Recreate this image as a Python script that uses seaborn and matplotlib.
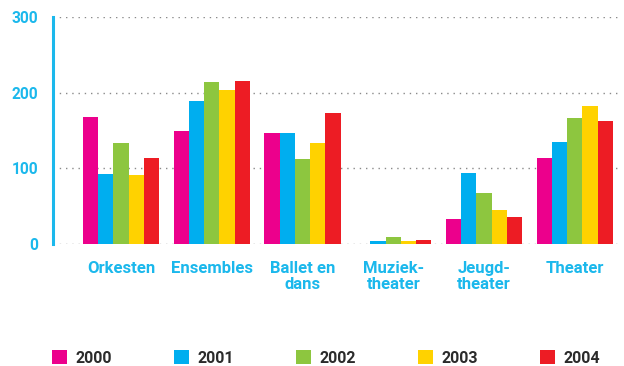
import matplotlib
matplotlib.use("Agg")
import matplotlib.pyplot as plt
from matplotlib.patches import Patch
import seaborn as sns
import pandas as pd

# Categories and yearly values
categories = ["Orkesten", "Ensembles", "Ballet en\ndans", "Muziek-\ntheater", "Jeugd-\ntheater", "Theater"]
years = ["2000", "2001", "2002", "2003", "2004"]
v2000 = [168, 149, 147, 0, 33, 114]
v2001 = [92, 189, 147, 4, 94, 135]
v2002 = [133, 214, 112, 9, 67, 166]
v2003 = [91, 204, 133, 4, 45, 182]
v2004 = [114, 215, 173, 5, 36, 162]
y_ticks = [0, 100, 200, 300]

colors = ["#EC008C", "#00AEEF", "#8DC63F", "#FFD200", "#ED1C24"]
cyan = "#1BB8EC"

series = [v2000, v2001, v2002, v2003, v2004]
rows = []
for year, vals in zip(years, series):
    for cat, v in zip(categories, vals):
        rows.append({"categorie": cat, "jaar": year, "waarde": v})
df = pd.DataFrame(rows)

sns.set_theme(style="white")
plt.rcParams["font.family"] = ["Roboto", "DejaVu Sans"]

fig = plt.figure(figsize=(6.24, 3.66), dpi=100)
ax = fig.add_axes([53 / 624, 1 - 244 / 366, (622 - 53) / 624, (244 - 17) / 366])

sns.barplot(data=df, x="categorie", y="waarde", hue="jaar", order=categories,
            hue_order=years, palette=colors, width=0.84, gap=0, saturation=1,
            edgecolor="none", linewidth=0, legend=False, ax=ax)

ax.set_xlim(-0.75, 5.52)
ax.set_ylim(0, 300)
ax.set_xlabel("")
ax.set_ylabel("")

# Dotted horizontal grid
ax.set_axisbelow(True)
ax.yaxis.grid(True, color="#8a8a8a", linewidth=1.0, linestyle=(0, (1, 3.5)))
ax.xaxis.grid(False)

for side in ["top", "right", "bottom"]:
    ax.spines[side].set_visible(False)
ax.spines["left"].set_color(cyan)
ax.spines["left"].set_linewidth(2.2)

ax.set_yticks(y_ticks)
ax.set_yticklabels([str(t) for t in y_ticks])
ax.tick_params(axis="y", length=0, pad=10.5, labelsize=11.2, labelcolor=cyan)
ax.tick_params(axis="x", length=0, pad=12.5, labelsize=12, labelcolor=cyan)
for lbl in ax.get_yticklabels():
    lbl.set_fontweight("bold")
for lbl in ax.get_xticklabels():
    lbl.set_fontweight("bold")
    lbl.set_linespacing(1.05)
    lbl.set_verticalalignment("top")

handles = [Patch(facecolor=c, edgecolor="none", label=y) for c, y in zip(colors, years)]
fig.legend(handles=handles, loc="center left", bbox_to_anchor=(52 / 624, 1 - 358 / 366),
           ncol=5, frameon=False, handlelength=0.95, handleheight=0.9,
           handletextpad=0.55, columnspacing=3.85, borderpad=0, borderaxespad=0,
           labelcolor="#2b2b2b", prop={"weight": "bold", "size": 11.5})

fig.savefig("out.png", dpi=100)
